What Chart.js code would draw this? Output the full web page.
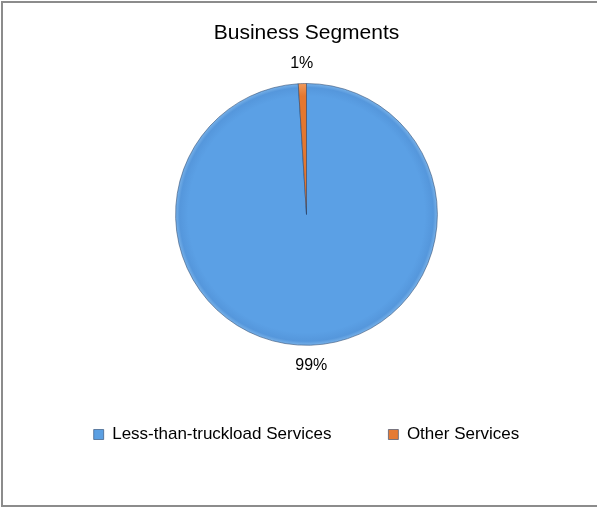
<!DOCTYPE html>
<html>
<head>
<meta charset="utf-8">
<script src="https://cdn.jsdelivr.net/npm/chart.js@4.4.1/dist/chart.umd.min.js"></script>
<style>
  html, body { margin: 0; padding: 0; background: #ffffff; overflow: hidden; }
  #wrap { position: relative; width: 597px; height: 508px; }
  #frame { position: absolute; left: 1px; top: 1px; width: 610px; height: 506px; box-sizing: border-box; border: 2px solid #8c8c8c; pointer-events: none; }
</style>
</head>
<body>
<div id="wrap">
  <canvas id="c" width="597" height="508"></canvas>
  <div id="frame"></div>
</div>
<script>
const chartTitle = 'Business Segments';
const categories = ['Less-than-truckload Services', 'Other Services'];
const shares = [99, 1];
const sliceColors = ['#5b9fe2', '#e57b35'];

const FONT = "'Liberation Sans Narrow', 'Arial Narrow', 'Liberation Sans', Arial, sans-serif";

function sliceFill(ctx) {
  const chart = ctx.chart;
  const area = chart.chartArea;
  if (!area) return sliceColors[ctx.dataIndex];
  const cx = (area.left + area.right) / 2, cy = (area.top + area.bottom) / 2;
  const r = Math.min(area.right - area.left, area.bottom - area.top) / 2;
  const g = chart.ctx.createRadialGradient(cx, cy, 0, cx, cy, r);
  if (ctx.dataIndex === 0) {
    g.addColorStop(0, '#5ba0e5');
    g.addColorStop(0.9, '#5ba0e5');
    g.addColorStop(0.965, '#5597dc');
    g.addColorStop(1, '#7db5ea');
  } else {
    g.addColorStop(0, '#e5772f');
    g.addColorStop(0.9, '#e5772f');
    g.addColorStop(1, '#f09a5c');
  }
  return g;
}

const pctLabels = {
  id: 'pctLabels',
  afterDatasetsDraw(chart) {
    const meta = chart.getDatasetMeta(0);
    const data = chart.data.datasets[0].data;
    const total = data.reduce((a, b) => a + b, 0);
    const c = chart.ctx;
    c.save();
    c.font = "16px " + FONT;
    c.fillStyle = '#000';
    c.textAlign = 'center';
    c.textBaseline = 'middle';
    meta.data.forEach((arc, i) => {
      const p = arc.getProps(['x', 'y', 'startAngle', 'endAngle', 'outerRadius'], true);
      const mid = (p.startAngle + p.endAngle) / 2;
      const rr = p.outerRadius + 20;
      const txt = Math.round(data[i] / total * 100) + '%';
      c.fillText(txt, p.x + Math.cos(mid) * rr, p.y + Math.sin(mid) * rr);
    });
    c.restore();
  }
};

new Chart(document.getElementById('c'), {
  type: 'pie',
  data: {
    labels: categories,
    datasets: [{
      data: shares,
      backgroundColor: sliceFill,
      borderColor: 'rgba(40,70,110,0.55)',
      borderWidth: 1
    }]
  },
  options: {
    responsive: false,
    animation: false,
    layout: { padding: { top: 2, left: 16, right: 0, bottom: 55 } },
    plugins: {
      title: {
        display: true,
        text: chartTitle,
        color: '#000',
        font: { family: FONT, size: 21, weight: 'normal' },
        padding: { top: 19, bottom: 36.8 }
      },
      legend: {
        display: true,
        position: 'bottom',
        title: { display: true, text: '', font: { size: 1 }, padding: { top: 22, bottom: 0 } },
        labels: {
          boxWidth: 10,
          boxHeight: 10,
          padding: 57,
          color: '#000',
          font: { family: FONT, size: 17 },
          generateLabels(chart) {
            return chart.data.labels.map((l, i) => ({
              text: l,
              fillStyle: sliceColors[i],
              strokeStyle: 'rgba(40,70,110,0.6)',
              fontColor: '#000',
              lineWidth: 1,
              index: i
            }));
          }
        }
      },
      tooltip: { enabled: false }
    }
  },
  plugins: [pctLabels]
});
</script>
</body>
</html>
